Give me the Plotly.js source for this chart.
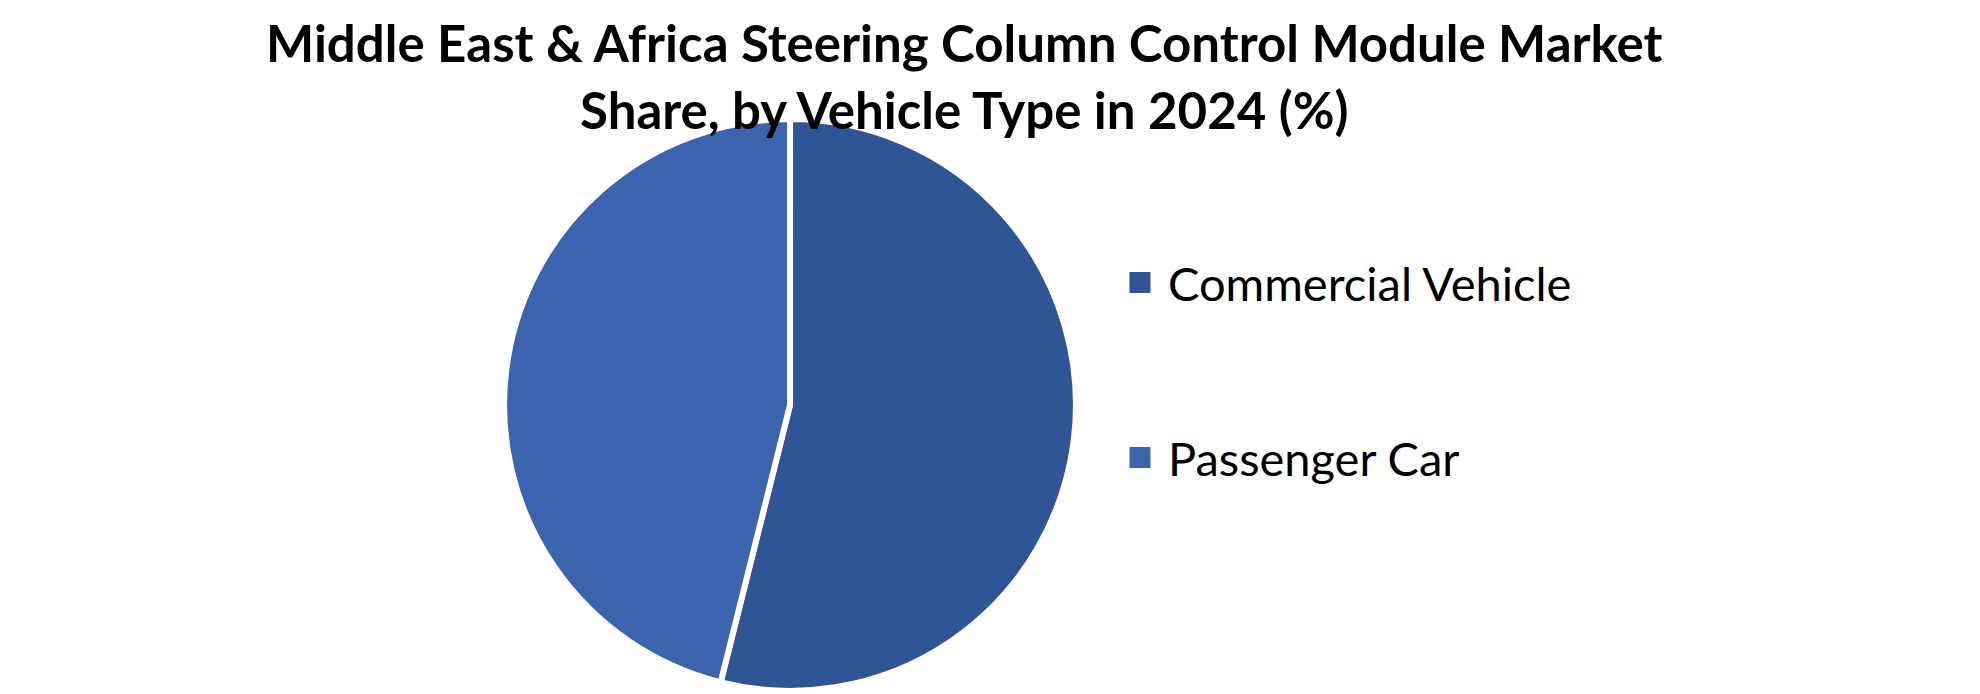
<!DOCTYPE html>
<html>
<head>
<meta charset="utf-8">
<script src="https://cdn.plot.ly/plotly-3.0.1.min.js"></script>
<style>
  html, body { margin: 0; padding: 0; background: #ffffff; }
  #chart { width: 1980px; height: 694px; }
</style>
</head>
<body>
<div id="chart"></div>
<script>
// market share by vehicle type, 2024 (%)
var vehicleTypes = ["Commercial Vehicle", "Passenger Car"];
var shareValues = [53.9, 46.1];
var sliceColors = ["#2F5597", "#3C64AE"];

var chartTitle = "Middle East & Africa Steering Column Control Module Market<br>Share, by Vehicle Type in 2024 (%)";
var fontFamily = "Lato, 'Open Sans', sans-serif";

var pieTrace =
{
    type: "pie",
    labels: vehicleTypes,
    values: shareValues,
    sort: false,
    direction: "clockwise",
    rotation: 0,
    textinfo: "none",
    hoverinfo: "label+percent",
    showlegend: false,
    marker: { colors: sliceColors, line: { color: "#ffffff", width: 6 } },
    domain: { x: [0.2545, 0.5435], y: [0.0045, 0.8285] }
};

// one legend per category so the entries can sit far apart, like the original
var legendTraces = vehicleTypes.map(function (name, i)
{
    return {
        type: "scatter",
        mode: "markers",
        x: [null],
        y: [null],
        name: name,
        legend: i === 0 ? "legend" : "legend2",
        marker: { symbol: "square", size: 16, color: sliceColors[i], line: { color: sliceColors[i], width: 5 } },
        hoverinfo: "skip"
    };
});

var legendStyle =
{
    x: 0.5616,
    xanchor: "left",
    yanchor: "middle",
    itemwidth: 46,
    bgcolor: "rgba(0,0,0,0)",
    font: { family: fontFamily, size: 47, color: "#000000" }
};

var layout =
{
    width: 1980,
    height: 694,
    margin: { l: 0, r: 0, t: 0, b: 0 },
    paper_bgcolor: "#ffffff",
    plot_bgcolor: "#ffffff",
    title:
    {
        text: chartTitle,
        x: 0.487,
        xanchor: "center",
        y: 0.91,
        yanchor: "top",
        yref: "container",
        font: { family: fontFamily, size: 51, color: "#000000", weight: "bold" }
    },
    xaxis: { visible: false },
    yaxis: { visible: false },
    legend: Object.assign({}, legendStyle, { y: 1 - 283 / 694 }),
    legend2: Object.assign({}, legendStyle, { y: 1 - 458 / 694 })
};

Plotly.newPlot("chart", [pieTrace].concat(legendTraces), layout, { displayModeBar: false, staticPlot: true });
</script>
</body>
</html>
